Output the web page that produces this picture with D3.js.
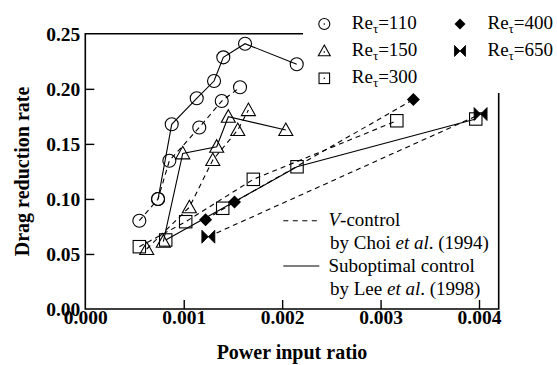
<!DOCTYPE html>
<html><head><meta charset="utf-8">
<script src="https://cdn.jsdelivr.net/npm/d3@7"></script>
<style>
html,body{margin:0;padding:0;background:#fff;}
svg text{font-family:"Liberation Serif","Times New Roman",serif;fill:#000;}
</style></head>
<body><svg id="chart" width="557" height="365"></svg>
<script>
// ---- data (x: power input ratio, y: drag reduction rate) ----
const xTicks = [0, 0.001, 0.002, 0.003, 0.004];
const yTicks = [0, 0.05, 0.10, 0.15, 0.20, 0.25];

const re110V   = [[0.000549,0.0802],[0.000739,0.0999],[0.000854,0.1347],[0.001158,0.1649],[0.001386,0.1889],[0.001572,0.2014]];
const re110Sub = [[0.000739,0.0999],[0.000878,0.1678],[0.001132,0.1914],[0.001308,0.2071],[0.001402,0.2286],[0.001623,0.2410],[0.002148,0.2223]];
const re150V   = [[0.000624,0.0545],[0.001057,0.0924],[0.001295,0.1353],[0.001549,0.1626],[0.001657,0.1807]];
const re150Sub = [[0.000793,0.0611],[0.000990,0.1414],[0.001335,0.1474],[0.001453,0.1747],[0.002037,0.1626]];
const re300V   = [[0.000549,0.0566],[0.001020,0.0793],[0.001707,0.1178],[0.003165,0.1710]];
const re300Sub = [[0.000817,0.0627],[0.001396,0.0915],[0.002151,0.1292],[0.003967,0.1726]];
const re400V   = [[0.001222,0.0811],[0.001516,0.0972],[0.003333,0.1903]];
const re650V   = [[0.001250,0.0657],[0.004016,0.1771]];

const reLabels = ["110","150","300","400","650"];
const lineLabels = [["V-control","by Choi et al. (1994)"],["Suboptimal control","by Lee et al. (1998)"]];

// ---- layout ----
const svg = d3.select("#chart");
const x = d3.scaleLinear().domain([0, 0.0042]).range([85.3, 498.7]);
const y = d3.scaleLinear().domain([0, 0.25]).range([309, 33.8]);

const markerPaths = {
  circle:   r => d3.path(),
};
function markerShape(g, type, s){ // s = scale factor
  if(type==="circle"){
    g.append("circle").attr("r",6.5*s).attr("fill","none").attr("stroke","#000").attr("stroke-width",1.1);
  } else if(type==="triangle"){
    g.append("path").attr("d",`M0,${-7*s}L${7*s},${5.5*s}L${-7*s},${5.5*s}Z`).attr("fill","none").attr("stroke","#000").attr("stroke-width",1.1);
  } else if(type==="square"){
    g.append("rect").attr("x",-6.2*s).attr("y",-6.2*s).attr("width",12.4*s).attr("height",12.4*s).attr("fill","none").attr("stroke","#000").attr("stroke-width",1.1);
  } else if(type==="diamond"){
    g.append("path").attr("d",`M0,${-6.5*s}L${6.5*s},0L0,${6.5*s}L${-6.5*s},0Z`).attr("fill","#000");
  } else if(type==="bowtie"){
    g.append("path").attr("d",`M${-6.5*s},${-6.5*s}L0,0L${-6.5*s},${6.5*s}ZM${6.5*s},${-6.5*s}L0,0L${6.5*s},${6.5*s}Z`).attr("fill","#000").attr("stroke","#000").attr("stroke-width",0.8);
  }
}

const series = [
  {data: re110V,   marker:"circle",   dash:true},
  {data: re110Sub, marker:"circle",   dash:false},
  {data: re150V,   marker:"triangle", dash:true},
  {data: re150Sub, marker:"triangle", dash:false},
  {data: re300V,   marker:"square",   dash:true},
  {data: re300Sub, marker:"square",   dash:false},
  {data: re400V,   marker:"diamond",  dash:true},
  {data: re650V,   marker:"bowtie",   dash:true}
];

// axes (ticks inward)
const xAxis = d3.axisBottom(x).tickValues(xTicks).tickFormat(d3.format(".3f")).tickSizeInner(-9).tickSizeOuter(0).tickPadding(1);
const yAxis = d3.axisLeft(y).tickValues(yTicks).tickFormat(d3.format(".2f")).tickSizeInner(-9).tickSizeOuter(0).tickPadding(5);

const gx = svg.append("g").attr("transform",`translate(0,${y(0)})`).call(xAxis);
const gy = svg.append("g").attr("transform",`translate(${x(0)},0)`).call(yAxis);
[gx,gy].forEach(g=>{
  g.select(".domain").remove();
  g.selectAll(".tick line").attr("stroke","#000").attr("stroke-width",1.4);
  g.selectAll(".tick text").attr("font-weight","bold").attr("font-size","19.5px").attr("fill","#000")
    .style("font-family",'"Liberation Serif","Times New Roman",serif');
});
gx.selectAll(".tick").filter(d=>d===0).select("line").remove();
gy.selectAll(".tick").filter(d=>d===0||d===0.25).select("line").remove();

// frame (broken by legend at top right)
const legendLeft = 303, legendBottom = 93;
const frame = d3.path();
frame.moveTo(legendLeft, y(0.25));
frame.lineTo(x(0), y(0.25));
frame.lineTo(x(0), y(0));
frame.lineTo(x(0.0042), y(0));
frame.lineTo(x(0.0042), legendBottom);
svg.append("path").attr("d",frame.toString()).attr("fill","none").attr("stroke","#000").attr("stroke-width",1.6);

// axis titles
svg.append("text").attr("x",(x(0)+x(0.0042))/2).attr("y",358.5).attr("text-anchor","middle")
  .attr("font-weight","bold").attr("font-size","20px").text("Power input ratio");
svg.append("text").attr("transform",`translate(29,${(y(0)+y(0.25))/2}) rotate(-90)`).attr("text-anchor","middle")
  .attr("font-weight","bold").attr("font-size","20px").text("Drag reduction rate");

// lines
const line = d3.line().x(d=>x(d[0])).y(d=>y(d[1]));
const plot = svg.append("g");
series.forEach(s=>{
  plot.append("path").attr("d",line(s.data)).attr("fill","none").attr("stroke","#000")
    .attr("stroke-width",1.1).attr("stroke-dasharray", s.dash ? "5,4" : null);
});
series.forEach(s=>{
  s.data.forEach(d=>{
    const g = plot.append("g").attr("transform",`translate(${x(d[0])},${y(d[1])})`);
    markerShape(g, s.marker, 1);
  });
});

// legend: Re_tau markers
const legendItems = [
  {marker:"circle",   label:reLabels[0], mx:324.3, my:24},
  {marker:"triangle", label:reLabels[1], mx:324.3, my:51},
  {marker:"square",   label:reLabels[2], mx:324.3, my:78.3},
  {marker:"diamond",  label:reLabels[3], mx:460,   my:24},
  {marker:"bowtie",   label:reLabels[4], mx:460,   my:51}
];
legendItems.forEach(it=>{
  const g = svg.append("g").attr("transform",`translate(${it.mx},${it.my})`);
  markerShape(g, it.marker, 0.85);
  if(["circle","triangle","square"].includes(it.marker)){
    g.append("circle").attr("r",0.8).attr("cy", it.marker==="triangle"?1:0).attr("fill","#000");
  }
  const t = svg.append("text").attr("x", it.mx + 27.5).attr("y", it.my + 5).attr("font-size","19px");
  t.append("tspan").text("Re");
  t.append("tspan").attr("font-size","13px").attr("dy",4).text("τ");
  t.append("tspan").attr("dy",-4).text("=" + it.label);
});

// legend: line styles
const lineLeg = [
  {dash:true,  ly:220.7, lines:lineLabels[0], ty:225.7},
  {dash:false, ly:266,   lines:lineLabels[1], ty:271}
];
lineLeg.forEach(l=>{
  svg.append("line").attr("x1",283.3).attr("x2",319.3).attr("y1",l.ly).attr("y2",l.ly)
    .attr("stroke","#000").attr("stroke-width",1.1).attr("stroke-dasharray", l.dash ? "5,4.5" : null);
});
// first text lines
const t1 = svg.append("text").attr("x",328.5).attr("y",225.7).attr("font-size","19px");
t1.append("tspan").attr("font-style","italic").text("V");
t1.append("tspan").text("-control");
const t2 = svg.append("text").attr("x",330).attr("y",249).attr("font-size","19px");
t2.append("tspan").text("by Choi ");
t2.append("tspan").attr("font-style","italic").text("et al");
t2.append("tspan").text(". (1994)");
svg.append("text").attr("x",328.5).attr("y",271.5).attr("font-size","19px").text(lineLabels[1][0]);
const t4 = svg.append("text").attr("x",330).attr("y",294.5).attr("font-size","19px");
t4.append("tspan").text("by Lee ");
t4.append("tspan").attr("font-style","italic").text("et al");
t4.append("tspan").text(". (1998)");
</script>
</body></html>
